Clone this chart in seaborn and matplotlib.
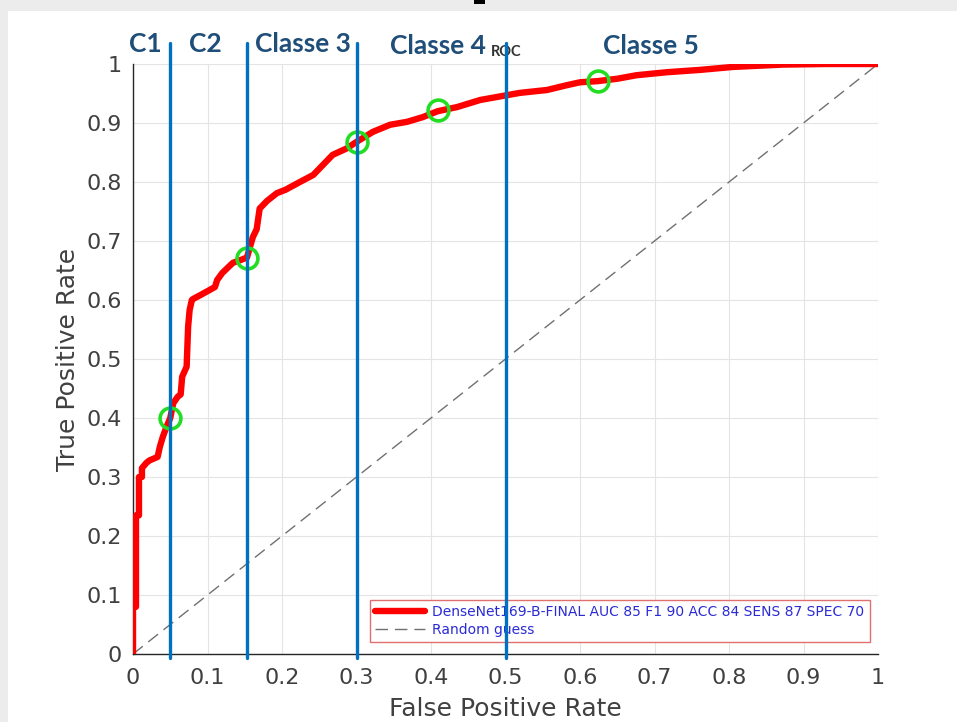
import matplotlib
matplotlib.use('Agg')
import matplotlib.pyplot as plt
from matplotlib.patches import Rectangle
import seaborn as sns

# ROC curve
fpr = [0, 0, 0.004, 0.004, 0.008, 0.008, 0.012, 0.012, 0.018, 0.022, 0.033, 0.036, 0.040, 0.045,
       0.050, 0.054, 0.060, 0.064, 0.066, 0.072, 0.074, 0.076, 0.079, 0.081, 0.090, 0.100, 0.110,
       0.113, 0.120, 0.134, 0.145, 0.153, 0.157, 0.161, 0.166, 0.170, 0.180, 0.193, 0.205, 0.224,
       0.242, 0.255, 0.268, 0.287, 0.300, 0.322, 0.345, 0.368, 0.389, 0.409, 0.435, 0.466, 0.488,
       0.519, 0.556, 0.582, 0.600, 0.624, 0.650, 0.676, 0.716, 0.761, 0.805, 0.872, 0.93, 1.0]
tpr = [0, 0.08, 0.08, 0.235, 0.235, 0.30, 0.30, 0.315, 0.324, 0.328, 0.334, 0.351, 0.368, 0.385,
       0.40, 0.425, 0.436, 0.44, 0.47, 0.487, 0.555, 0.583, 0.600, 0.602, 0.608, 0.615, 0.622,
       0.634, 0.646, 0.663, 0.668, 0.672, 0.69, 0.707, 0.72, 0.755, 0.768, 0.781, 0.787, 0.80,
       0.812, 0.829, 0.846, 0.857, 0.868, 0.885, 0.897, 0.902, 0.910, 0.920, 0.927, 0.939, 0.944,
       0.951, 0.956, 0.964, 0.969, 0.971, 0.975, 0.981, 0.986, 0.99, 0.995, 0.999, 1.0, 1.0]

# class thresholds (green circles) and separators (blue lines)
circle_fpr = [0.05, 0.153, 0.30, 0.409, 0.624]
circle_tpr = [0.40, 0.672, 0.868, 0.922, 0.971]
separators = [0.05, 0.153, 0.30, 0.50]
class_names = ['C1', 'C2', 'Classe 3', 'Classe 4', 'Classe 5']
class_x = [0.016, 0.097, 0.228, 0.409, 0.695]
class_y = [1.034, 1.034, 1.034, 1.031, 1.031]

curve_label = 'DenseNet169-B-FINAL AUC 85 F1 90 ACC 84 SENS 87 SPEC 70'
diag_label = 'Random guess'

sns.set_theme(style='whitegrid')
plt.rcParams['font.family'] = ['DejaVu Sans']

fig = plt.figure(figsize=(9.57, 7.22), dpi=100, facecolor='white')
# grey strips around the white card
fig.patches.append(Rectangle((0, (722 - 11) / 722), 1, 11 / 722, transform=fig.transFigure,
                             facecolor='#ececec', edgecolor='none', zorder=-1))
fig.patches.append(Rectangle((0, 0), 8 / 957, 1, transform=fig.transFigure,
                             facecolor='#ececec', edgecolor='none', zorder=-1))
fig.patches.append(Rectangle((474 / 957, (722 - 4) / 722), 11 / 957, 4 / 722,
                             transform=fig.transFigure, facecolor='black', edgecolor='none',
                             zorder=-1))

ax = fig.add_axes([133 / 957, 68 / 722, 745 / 957, 590 / 722])
ax.set_facecolor('white')

sns.lineplot(x=fpr, y=tpr, ax=ax, sort=False, estimator=None, color='#ff0000',
             linewidth=4.6, label=curve_label, zorder=3)
sns.lineplot(x=[0, 1], y=[0, 1], ax=ax, color='#707070', linewidth=1.0,
             linestyle=(0, (9, 5)), label=diag_label, zorder=2)

ax.plot(circle_fpr, circle_tpr, linestyle='none', marker='o', markersize=15,
        markerfacecolor='none', markeredgecolor='#22dd22', markeredgewidth=2.6, zorder=4)

for x in separators:
    ax.axvline(x, ymin=-0.007, ymax=1.036, color='#0070C0', linewidth=2.4,
               clip_on=False, zorder=6)

for name, x, y in zip(class_names, class_x, class_y):
    ax.text(x, y, name, ha='center', va='center', fontsize=19, fontweight='bold',
            family='Lato', color='#1F4E79', clip_on=False)
ax.text(0.501, 1.020, 'ROC', ha='center', va='center', fontsize=10.5, fontweight='bold',
        family='Lato', color='#333333', clip_on=False)

ax.set_xlim(0, 1)
ax.set_ylim(0, 1)
ticks = [0, 0.1, 0.2, 0.3, 0.4, 0.5, 0.6, 0.7, 0.8, 0.9, 1]
tick_labels = ['0', '0.1', '0.2', '0.3', '0.4', '0.5', '0.6', '0.7', '0.8', '0.9', '1']
ax.set_xticks(ticks)
ax.set_xticklabels(tick_labels)
ax.set_yticks(ticks)
ax.set_yticklabels(tick_labels)
ax.grid(True, color='#e4e4e4', linewidth=0.8)
ax.tick_params(direction='in', length=5, width=0.8, color='#262626',
               labelsize=16, labelcolor='#404040')
ax.tick_params(axis='x', pad=10)
ax.tick_params(axis='y', pad=8)
for side in ['top', 'right']:
    ax.spines[side].set_visible(False)
for side in ['left', 'bottom']:
    ax.spines[side].set_color('#262626')
    ax.spines[side].set_linewidth(1.0)

ax.set_xlabel('False Positive Rate', fontsize=18, color='#404040')
ax.set_ylabel('True Positive Rate', fontsize=18, color='#404040')
ax.xaxis.set_label_coords(0.5, -0.073)
ax.yaxis.set_label_coords(-0.071, 0.5)

leg = ax.legend(loc='lower right', bbox_to_anchor=(0.989, 0.02), borderaxespad=0,
                fontsize=10, handlelength=3.6, handletextpad=0.5, labelspacing=0.25,
                borderpad=0.4, fancybox=False, framealpha=1)
leg.get_frame().set_edgecolor('#e07070')
leg.get_frame().set_linewidth(1.0)
for t in leg.get_texts():
    t.set_color('#2b2bd6')

fig.savefig('out.png', dpi=100, facecolor=fig.get_facecolor())
